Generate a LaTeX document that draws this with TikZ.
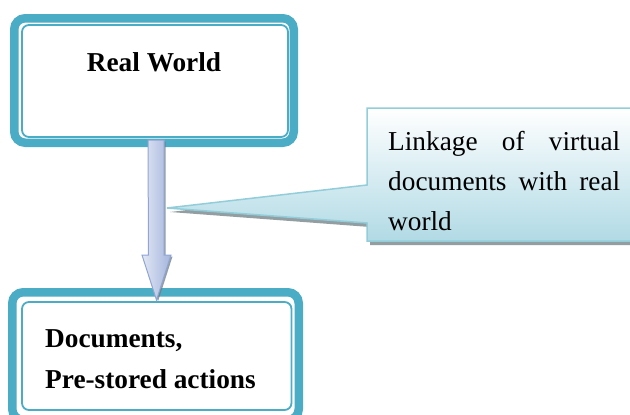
\documentclass[tikz,border=0pt]{standalone}
\usepackage{fontspec}
\setmainfont{Liberation Serif}
\usetikzlibrary{calc}

\definecolor{aqua}{HTML}{4BACC6}
\definecolor{calloutedge}{HTML}{92CDDA}
\definecolor{calloutlow}{HTML}{B1DAE5}
\definecolor{arrowlight}{HTML}{E2E7F4}
\definecolor{arrowdark}{HTML}{A3B4DC}
\definecolor{arrowedge}{HTML}{90A5D6}
\definecolor{shadowgray}{HTML}{6E7E84}

\tikzset{
  frameouter/.style={draw=aqua, line width=8.5pt, rounded corners=11pt, inner sep=0pt},
  frameinner/.style={draw=aqua, line width=1.8pt, rounded corners=7pt, inner sep=0pt},
  bigtext/.style={font=\fontsize{27.3}{41}\selectfont, inner sep=0pt},
  boldtext/.style={font=\fontsize{27.3}{41}\selectfont\bfseries, inner sep=0pt},
  blockarrow/.style={draw=arrowedge, line width=1pt, left color=arrowlight, right color=arrowdark},
  callout/.style={draw=calloutedge, line width=1.5pt, top color=white, bottom color=calloutlow},
  dropshadow/.style={fill=shadowgray, opacity=0.75},
}

\begin{document}
\begin{tikzpicture}[x=1pt,y=-1pt]
\clip (0,0) rectangle (630,415);
\fill[white] (0,0) rectangle (630,415);

% upper frame: thick band with a thin line inside
\draw[frameouter] (14.25,18.25) rectangle (293.75,142.75);
\draw[frameinner] (22,25) rectangle (288,137);
\node[boldtext, anchor=base] (real) at (154,71) {Real World};

% lower frame
\draw[frameouter] (12.25,292.25) rectangle (298.75,420);
\draw[frameinner] (22,302) rectangle (291.5,410);
\node[boldtext, anchor=base west] (docs) at (45,347)
  {\parbox[t]{250pt}{\baselineskip=41pt Documents,\\Pre-stored actions}};

% block arrow from the upper frame down to the lower one
\coordinate (arrowtop) at (156,140);
\coordinate (arrowtip) at (156.5,300);
\fill[dropshadow] ($(arrowtop)+(1.5,1.5)$) ++(-8,0) -- ++(16,0) -- ++(0,115) -- ++(7,0)
  -- ($(arrowtip)+(1.5,1.5)$) -- ++(-14.5,-45) -- ++(6.5,0) -- cycle;
\path[blockarrow] (arrowtop) ++(-8,0) -- ++(16,0) -- ++(0,115) -- ++(7,0)
  -- (arrowtip) -- ++(-14.5,-45) -- ++(6.5,0) -- cycle;

% callout pointing at the arrow
\coordinate (tip) at (167,208);
\fill[dropshadow] ($(tip)+(3,4)$) -- (370,189) -- (370,112) -- (645,112) -- (645,245)
  -- (370,245) -- (370,227) -- cycle;
\path[callout] (tip) -- (367,185) -- (367,108) -- (640,108) -- (640,241)
  -- (367,241) -- (367,223) -- cycle;
\node[bigtext, anchor=base west] (linktext) at (388,150)
  {\parbox[t]{232pt}{\baselineskip=40pt Linkage of virtual\linebreak documents with real\linebreak world}};
\end{tikzpicture}
\end{document}
